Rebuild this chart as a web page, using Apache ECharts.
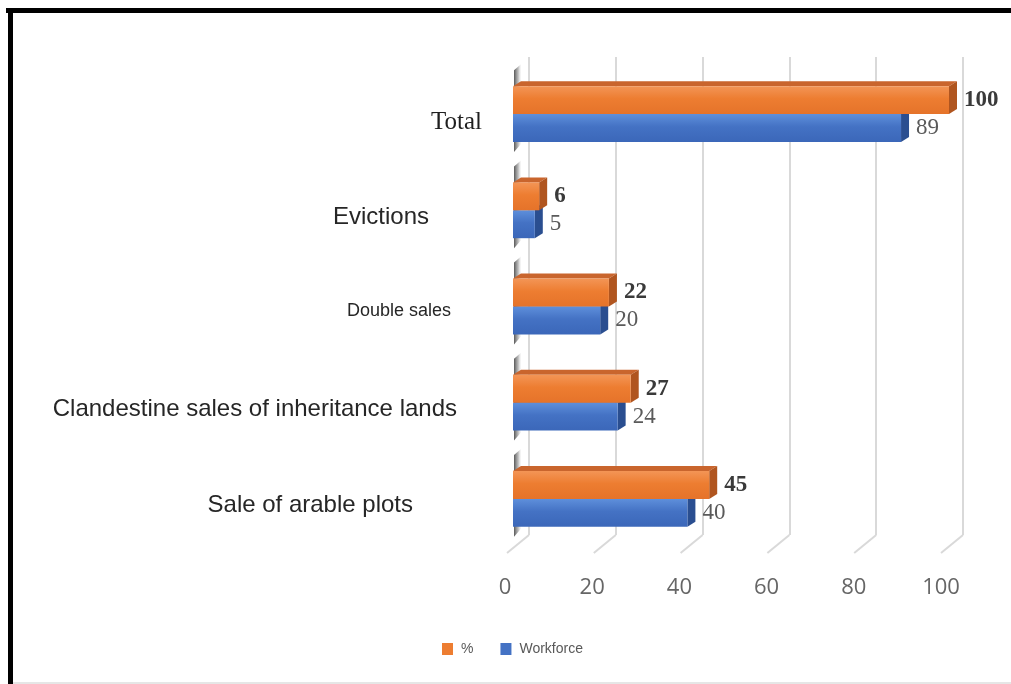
<!DOCTYPE html>
<html>
<head>
<meta charset="utf-8">
<script src="https://cdn.jsdelivr.net/npm/echarts@6/dist/echarts.min.js"></script>
<style>
html,body{margin:0;padding:0;background:#fff;}
#chart{width:1011px;height:684px;}
</style>
</head>
<body>
<div id="chart"></div>
<script>
const categories = ['Total', 'Evictions', 'Double sales', 'Clandestine sales of inheritance lands', 'Sale of arable plots'];
const pctValues = [100, 6, 22, 27, 45];
const workforceValues = [89, 5, 20, 24, 40];
const xTicks = [0, 20, 40, 60, 80, 100];
const seriesNames = ['%', 'Workforce'];

const catStyleKeys = ['t', 'e', 'd', 'c', 's'];

const palette = {
  orange: { front: ['#F39556', '#ED7D31', '#E5732A'], top: '#C9652D', side: '#B0551F', label: '#3a3a3a' },
  blue: { front: ['#5E8FDB', '#4472C4', '#3B67B9'], top: '#3A5FA8', side: '#2A4E90', label: '#5a5a5a' }
};

function makeRender(which) {
  const pal = which === 0 ? palette.orange : palette.blue;
  return function (params, api) {
    const cat = api.value(0);
    const val = api.value(1);
    const c0 = api.coord([0, cat]);
    const c1 = api.coord([val, cat]);
    const band = api.size([0, 1])[1];
    const h = band * 0.29;
    const x0 = c0[0], x1 = c1[0];
    const y0 = which === 0 ? c0[1] - h : c0[1];
    const dx = 8, dy = -5;
    const children = [];
    if (which === 1) {
      // dark left wall shading behind the pair of bars
      const yc = c0[1];
      children.push({
        type: 'polygon',
        shape: { points: [[x0 + 1, yc - h - 16], [x0 + 8, yc - h - 22], [x0 + 8, yc + h + 2], [x0 + 1, yc + h + 10]] },
        style: {
          fill: new echarts.graphic.LinearGradient(0, 0, 1, 0, [
            { offset: 0, color: 'rgba(70,70,70,0.9)' },
            { offset: 0.6, color: 'rgba(120,120,120,0.5)' },
            { offset: 1, color: 'rgba(200,200,200,0.1)' }
          ])
        },
        z2: 0
      });
    }
    children.push({
      type: 'polygon',
      shape: { points: [[x0, y0], [x0 + dx, y0 + dy], [x1 + dx, y0 + dy], [x1, y0]] },
      style: { fill: pal.top },
      z2: 1
    });
    children.push({
      type: 'polygon',
      shape: { points: [[x1, y0], [x1 + dx, y0 + dy], [x1 + dx, y0 + h + dy], [x1, y0 + h]] },
      style: { fill: pal.side },
      z2: 1
    });
    children.push({
      type: 'rect',
      shape: { x: x0, y: y0, width: x1 - x0, height: h },
      style: {
        fill: new echarts.graphic.LinearGradient(0, 0, 0, 1, [
          { offset: 0, color: pal.front[0] },
          { offset: 0.45, color: pal.front[1] },
          { offset: 1, color: pal.front[2] }
        ])
      },
      z2: 2
    });
    children.push({
      type: 'text',
      x: x1 + dx + 7,
      y: y0 + h / 2,
      style: {
        text: String(val),
        fill: pal.label,
        font: (which === 0 ? 'bold ' : '') + '23px "Liberation Serif", "Times New Roman", serif',
        verticalAlign: 'middle',
        align: 'left'
      },
      z2: 3
    });
    return { type: 'group', children: children };
  };
}

const chart = echarts.init(document.getElementById('chart'), null, { renderer: 'canvas' });

const option = {
  backgroundColor: '#ffffff',
  animation: false,
  legend: {
    data: seriesNames,
    left: 437,
    top: 637,
    icon: 'rect',
    itemWidth: 11,
    itemHeight: 12,
    itemGap: 27,
    textStyle: { color: '#595959', fontSize: 14, fontFamily: '"Liberation Sans", Arial, sans-serif', padding: [0, 0, 0, 3] }
  },
  grid: [
    { left: 513, right: 62, top: 66, bottom: 137 },
    { left: 529, right: 48, top: 57, bottom: 149 }
  ],
  xAxis: [
    {
      type: 'value', gridIndex: 0, min: 0, max: 100, interval: 20,
      axisLine: { show: false }, axisTick: { show: false }, splitLine: { show: false },
      axisLabel: {
        margin: 30,
        color: '#666666',
        fontSize: 22,
        fontFamily: '"Open Sans", sans-serif',
        padding: [0, 16, 0, 0],
        formatter: function (v) { return xTicks.indexOf(v) >= 0 ? String(v) : ''; }
      }
    },
    {
      type: 'value', gridIndex: 1, min: 0, max: 100, interval: 20,
      axisLine: { show: false }, axisTick: { show: false }, axisLabel: { show: false },
      splitLine: { show: true, lineStyle: { color: '#d9d9d9', width: 2 } }
    }
  ],
  yAxis: [
    {
      type: 'category', gridIndex: 0, data: categories, inverse: true,
      axisLine: { show: false }, axisTick: { show: false },
      axisLabel: {
        margin: 31,
        formatter: function (v, i) { return '{' + catStyleKeys[i] + '|' + v + '}'; },
        rich: {
          t: { fontFamily: '"Liberation Serif", "Times New Roman", serif', fontSize: 25, color: '#1f1f1f', padding: [16, 0, 0, 0] },
          e: { fontFamily: '"Liberation Sans", Arial, sans-serif', fontSize: 24, color: '#262626', padding: [14, 53, 0, 0] },
          d: { fontFamily: '"Liberation Sans", Arial, sans-serif', fontSize: 18, color: '#262626', padding: [9, 31, 0, 0] },
          c: { fontFamily: '"Liberation Sans", Arial, sans-serif', fontSize: 24, color: '#262626', padding: [14, 25, 0, 0] },
          s: { fontFamily: '"Liberation Sans", Arial, sans-serif', fontSize: 24, color: '#262626', padding: [12, 69, 0, 0] }
        }
      }
    },
    {
      type: 'value', gridIndex: 1, min: 0, max: 1,
      axisLine: { show: false }, axisTick: { show: false }, axisLabel: { show: false }, splitLine: { show: false }
    }
  ],
  series: [
    {
      name: 'Workforce', type: 'custom', xAxisIndex: 0, yAxisIndex: 0, z: 2,
      itemStyle: { color: '#4472C4' },
      encode: { x: 1, y: 0 },
      renderItem: makeRender(1),
      data: categories.map(function (c, i) { return [i, workforceValues[i]]; })
    },
    {
      name: '%', type: 'custom', xAxisIndex: 0, yAxisIndex: 0, z: 3,
      itemStyle: { color: '#ED7D31' },
      encode: { x: 1, y: 0 },
      renderItem: makeRender(0),
      data: categories.map(function (c, i) { return [i, pctValues[i]]; })
    },
    {
      name: 'floor', type: 'custom', xAxisIndex: 1, yAxisIndex: 1, z: 1, silent: true,
      encode: { x: 0, y: 1 },
      renderItem: function (params, api) {
        const p = api.coord([api.value(0), 0]);
        return {
          type: 'line',
          shape: { x1: p[0], y1: p[1], x2: p[0] - 22, y2: p[1] + 18 },
          style: { stroke: '#d9d9d9', lineWidth: 2 }
        };
      },
      data: xTicks.map(function (t) { return [t, 0]; })
    }
  ],
  graphic: [
    { type: 'rect', shape: { x: 6, y: 8, width: 1005, height: 5 }, style: { fill: '#000' } },
    { type: 'rect', shape: { x: 8, y: 8, width: 5, height: 676 }, style: { fill: '#000' } },
    { type: 'rect', shape: { x: 13, y: 682, width: 998, height: 2 }, style: { fill: '#e6e6e6' } }
  ]
};

chart.setOption(option);
</script>
</body>
</html>
